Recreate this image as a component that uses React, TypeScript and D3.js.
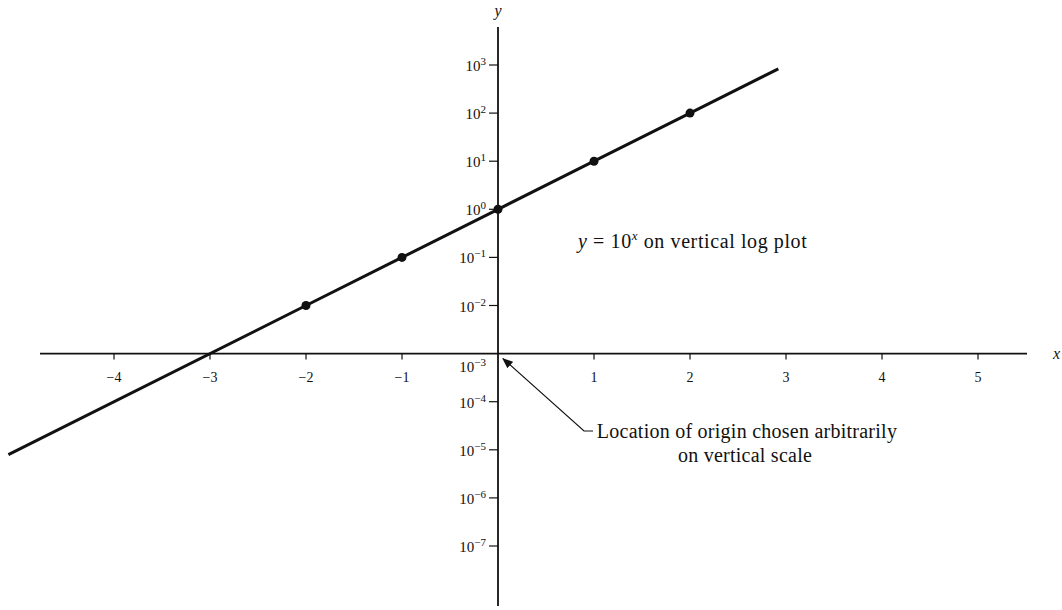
import React from "react";
import * as d3 from "d3";

// Exponential y = 10^x drawn on a semi-log grid
const xTicks = [-4, -3, -2, -1, 1, 2, 3, 4, 5];
const yExponents = [3, 2, 1, 0, -1, -2, -3, -4, -5, -6, -7];
const lineX = [-5.1, -2, -1, 0, 1, 2, 2.92];
const lineY = [7.94e-6, 0.01, 0.1, 1, 10, 100, 832];
const pointX = [-2, -1, 0, 1, 2];
const pointY = [0.01, 0.1, 1, 10, 100];

const W = 1062;
const H = 610;
const serif = "'Liberation Serif', 'DejaVu Serif', serif";

export default function App() {
  const x = d3.scaleLinear().domain([-4, 5]).range([114, 978]);
  const y = d3.scaleLog().domain([1e-7, 1e3]).range([546, 65]);
  const x0 = x(0);
  const yAxisPos = y(1e-3);

  const line = d3
    .line<number>()
    .x((_, i) => x(lineX[i]))
    .y((_, i) => y(lineY[i]));

  const supMinus = (k: number) => (k < 0 ? "\u2212" + Math.abs(k) : String(k));

  return (
    <svg
      width={W}
      height={H}
      style={{ position: "absolute", left: 0, top: 0, background: "#fff" }}
    >
      <defs>
        <marker
          id="arrowHead"
          viewBox="0 0 10 10"
          refX="9"
          refY="5"
          markerWidth="9"
          markerHeight="9"
          orient="auto"
        >
          <path d="M0,1 L10,5 L0,9 z" fill="#111" />
        </marker>
      </defs>

      {/* horizontal axis */}
      <line x1={40} x2={1027} y1={yAxisPos} y2={yAxisPos} stroke="#111" strokeWidth={1.6} />
      {xTicks.map((t) => (
        <g key={"xt" + t}>
          <line x1={x(t)} x2={x(t)} y1={yAxisPos} y2={yAxisPos + 6} stroke="#111" strokeWidth={1.2} />
          <text
            x={x(t)}
            y={yAxisPos + 28}
            textAnchor="middle"
            fontFamily={serif}
            fontSize={14}
            fill="#111"
          >
            {t < 0 ? "\u2212" + Math.abs(t) : t}
          </text>
        </g>
      ))}
      <text x={1053} y={yAxisPos + 5} fontFamily={serif} fontStyle="italic" fontSize={16} fill="#111">
        x
      </text>

      {/* vertical log axis */}
      <line x1={x0} x2={x0} y1={27} y2={606} stroke="#111" strokeWidth={1.8} />
      {yExponents.map((k) => {
        const v = Math.pow(10, k);
        const py = y(v);
        const labelY = k === -3 ? py + 18 : py + 6;
        return (
          <g key={"yt" + k}>
            {k !== -3 && (
              <line x1={x0 - 9} x2={x0} y1={py} y2={py} stroke="#111" strokeWidth={1.2} />
            )}
            <text
              x={x0 - 12}
              y={labelY}
              textAnchor="end"
              fontFamily={serif}
              fontSize={15}
              fill="#111"
            >
              10
              <tspan dy={-6} fontSize={11}>
                {supMinus(k)}
              </tspan>
            </text>
          </g>
        );
      })}
      <text x={x0} y={16} textAnchor="middle" fontFamily={serif} fontStyle="italic" fontSize={16} fill="#111">
        y
      </text>

      {/* the curve and its sample points */}
      <path d={line(lineX) ?? ""} fill="none" stroke="#111" strokeWidth={3} />
      {pointX.map((px, i) => (
        <circle key={"p" + px} cx={x(px)} cy={y(pointY[i])} r={4.5} fill="#111" />
      ))}

      <text x={578} y={248} fontFamily={serif} fontSize={20} letterSpacing={0.6} fill="#111">
        <tspan fontStyle="italic">y</tspan> = 10
        <tspan dy={-8} fontSize={13} fontStyle="italic">x</tspan>
        <tspan dy={8}> on vertical log plot</tspan>
      </text>

      {/* leader to the origin */}
      <polyline
        points={`593,431 584,431 ${x0 + 5},${yAxisPos + 5}`}
        fill="none"
        stroke="#111"
        strokeWidth={1.2}
        markerEnd="url(#arrowHead)"
      />
      <text x={747} y={438} textAnchor="middle" fontFamily={serif} fontSize={20} letterSpacing={0.25} fill="#111">
        Location of origin chosen arbitrarily
      </text>
      <text x={745} y={462} textAnchor="middle" fontFamily={serif} fontSize={20} letterSpacing={0.25} fill="#111">
        on vertical scale
      </text>
    </svg>
  );
}
